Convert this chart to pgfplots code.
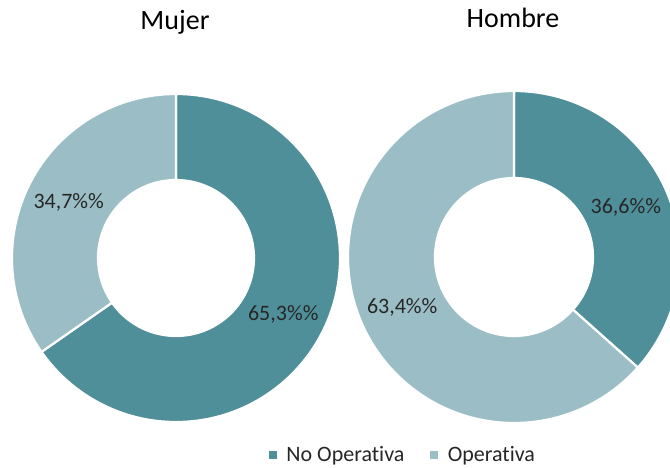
\documentclass[border=0pt]{standalone}
\usepackage{fontspec}
\setmainfont{Carlito}[Ligatures=NoCommon]
\usepackage{pgfplots}
\pgfplotsset{compat=1.18}
\definecolor{dark}{HTML}{4F8F99}
\definecolor{light}{HTML}{9BBEC6}
\definecolor{txt}{HTML}{262626}
% donut: cx, cy, R, r, valueNO, valueOP, labelNO, labelOP
\newcommand{\donut}[8]{%
  \begin{scope}[shift={(axis cs:#1,#2)}]
    \filldraw[fill=dark, draw=white, line width=2.2pt, line join=round]
      (90:#3pt) arc[start angle=90, end angle={90-3.6*#5}, radius=#3pt]
      -- ({90-3.6*#5}:#4pt) arc[start angle={90-3.6*#5}, end angle=90, radius=#4pt] -- cycle;
    \filldraw[fill=light, draw=white, line width=2.2pt, line join=round]
      ({90-3.6*#5}:#3pt) arc[start angle={90-3.6*#5}, end angle={90-3.6*#5-3.6*#6}, radius=#3pt]
      -- ({90-3.6*#5-3.6*#6}:#4pt) arc[start angle={90-3.6*#5-3.6*#6}, end angle={90-3.6*#5}, radius=#4pt] -- cycle;
    \node[font=\fontsize{22}{26}\selectfont, text=txt] at ({90-1.8*#5}:{(#3+#4)/2*1pt}) {#7\%\%};
    \node[font=\fontsize{22}{26}\selectfont, text=txt] at ({90-3.6*#5-1.8*#6}:{(#3+#4)/2*1pt}) {#8\%\%};
  \end{scope}
}
\begin{document}
\begin{tikzpicture}
\useasboundingbox (0,0) rectangle (670pt,467pt);
\clip (0,0) rectangle (670pt,467pt);
\begin{axis}[
  at={(0,0)}, anchor=south west,
  scale only axis, width=670pt, height=467pt,
  xmin=0, xmax=670, ymin=0, ymax=467,
  hide axis, clip=false,
  legend columns=2,
  legend style={draw=none, fill=none, at={(axis cs:403,12)}, anchor=center,
    font=\fontsize{22}{26}\selectfont, text=txt,
    /tikz/every odd column/.append style={column sep=8pt},
    /tikz/every even column/.append style={column sep=24pt}},
  legend image code/.code={\fill[#1] (0pt,-3.5pt) rectangle (7pt,3.5pt);},
]
\addplot[draw=none, forget plot] coordinates {(0,0)};
\addlegendimage{dark}
\addlegendentry{No Operativa}
\addlegendimage{light}
\addlegendentry{Operativa}
\donut{176}{209}{164}{78}{65.3}{34.7}{65,3}{34,7}
\donut{514}{210}{166}{79}{36.6}{63.4}{36,6}{63,4}
\node[font=\fontsize{28}{32}\selectfont, text=black] at (axis cs:175,445) {Mujer};
\node[font=\fontsize{28}{32}\selectfont, text=black] at (axis cs:513,449) {Hombre};
\end{axis}
\end{tikzpicture}
\end{document}
